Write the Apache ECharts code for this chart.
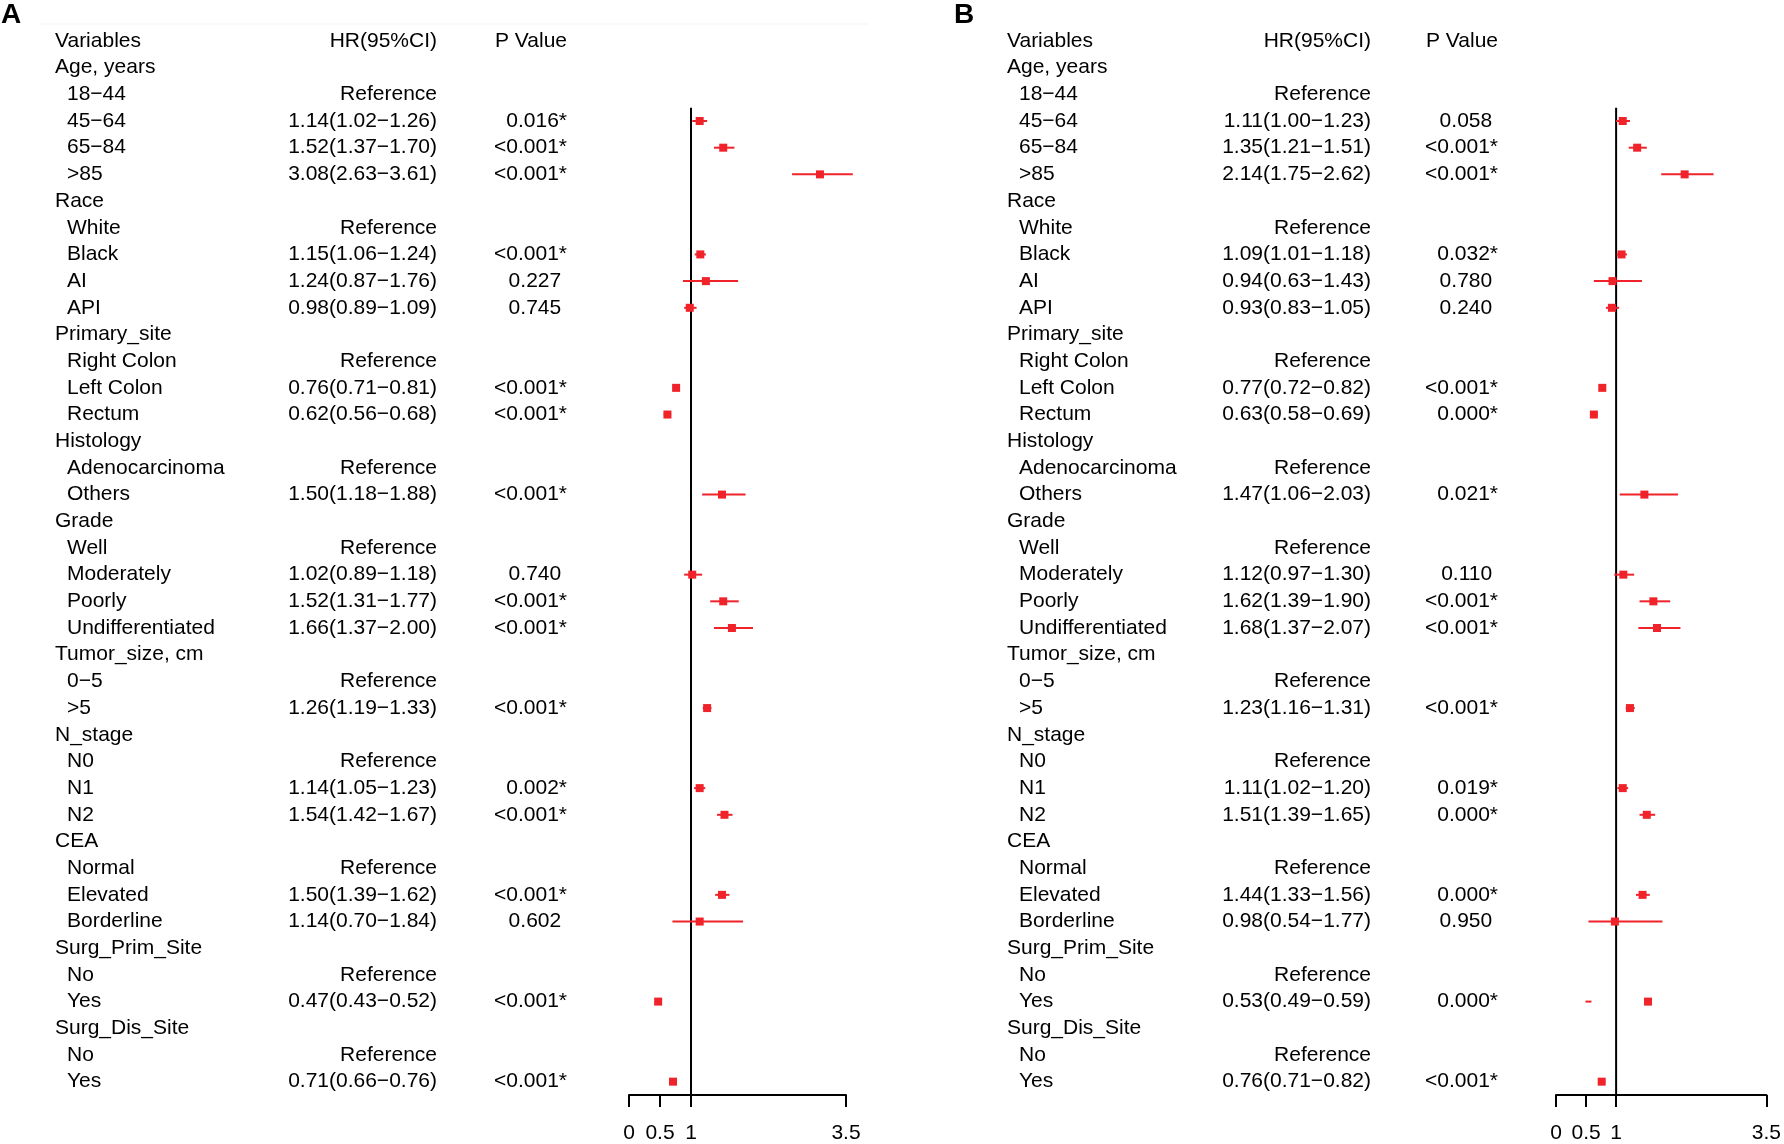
<!DOCTYPE html>
<html>
<head>
<meta charset="utf-8">
<title>Forest plot</title>
<script src="https://cdn.jsdelivr.net/npm/echarts@6/dist/echarts.min.js"></script>
<style>
  html, body { margin: 0; padding: 0; background: #fff; }
  #chart { width: 1784px; height: 1144px; }
</style>
</head>
<body>
<div id="chart"></div>
<script>
var R = 'Reference';

// row labels (the column header row is added separately)
var labels = ['Age, years', '18−44', '45−64', '65−84', '>85',
  'Race', 'White', 'Black', 'AI', 'API',
  'Primary_site', 'Right Colon', 'Left Colon', 'Rectum',
  'Histology', 'Adenocarcinoma', 'Others',
  'Grade', 'Well', 'Moderately', 'Poorly', 'Undifferentiated',
  'Tumor_size, cm', '0−5', '>5',
  'N_stage', 'N0', 'N1', 'N2',
  'CEA', 'Normal', 'Elevated', 'Borderline',
  'Surg_Prim_Site', 'No', 'Yes',
  'Surg_Dis_Site', 'No', 'Yes'];

// panel A
var estA = [null, R, 1.14, 1.52, 3.08, null, R, 1.15, 1.24, 0.98, null, R, 0.76, 0.62, null, R, 1.50,
  null, R, 1.02, 1.52, 1.66, null, R, 1.26, null, R, 1.14, 1.54, null, R, 1.50, 1.14, null, R, 0.47, null, R, 0.71];
var loA = [null, null, 1.02, 1.37, 2.63, null, null, 1.06, 0.87, 0.89, null, null, 0.71, 0.56, null, null, 1.18,
  null, null, 0.89, 1.31, 1.37, null, null, 1.19, null, null, 1.05, 1.42, null, null, 1.39, 0.70, null, null, 0.43, null, null, 0.66];
var hiA = [null, null, 1.26, 1.70, 3.61, null, null, 1.24, 1.76, 1.09, null, null, 0.81, 0.68, null, null, 1.88,
  null, null, 1.18, 1.77, 2.00, null, null, 1.33, null, null, 1.23, 1.67, null, null, 1.62, 1.84, null, null, 0.52, null, null, 0.76];
var pA = [null, null, '0.016*', '<0.001*', '<0.001*', null, null, '<0.001*', '0.227', '0.745', null, null, '<0.001*', '<0.001*', null, null, '<0.001*',
  null, null, '0.740', '<0.001*', '<0.001*', null, null, '<0.001*', null, null, '0.002*', '<0.001*', null, null, '<0.001*', '0.602', null, null, '<0.001*', null, null, '<0.001*'];
var boxA = estA;

// panel B
var estB = [null, R, 1.11, 1.35, 2.14, null, R, 1.09, 0.94, 0.93, null, R, 0.77, 0.63, null, R, 1.47,
  null, R, 1.12, 1.62, 1.68, null, R, 1.23, null, R, 1.11, 1.51, null, R, 1.44, 0.98, null, R, 0.53, null, R, 0.76];
var loB = [null, null, 1.00, 1.21, 1.75, null, null, 1.01, 0.63, 0.83, null, null, 0.72, 0.58, null, null, 1.06,
  null, null, 0.97, 1.39, 1.37, null, null, 1.16, null, null, 1.02, 1.39, null, null, 1.33, 0.54, null, null, 0.49, null, null, 0.71];
var hiB = [null, null, 1.23, 1.51, 2.62, null, null, 1.18, 1.43, 1.05, null, null, 0.82, 0.69, null, null, 2.03,
  null, null, 1.30, 1.90, 2.07, null, null, 1.31, null, null, 1.20, 1.65, null, null, 1.56, 1.77, null, null, 0.59, null, null, 0.82];
var pB = [null, null, '0.058', '<0.001*', '<0.001*', null, null, '0.032*', '0.780', '0.240', null, null, '<0.001*', '0.000*', null, null, '0.021*',
  null, null, '0.110', '<0.001*', '<0.001*', null, null, '<0.001*', null, null, '0.019*', '0.000*', null, null, '0.000*', '0.950', null, null, '0.000*', null, null, '<0.001*'];
// where the boxes sit in panel B (the Surg_Prim_Site "Yes" box is drawn away from its CI in the figure)
var boxB = [null, R, 1.11, 1.35, 2.14, null, R, 1.09, 0.94, 0.93, null, R, 0.77, 0.63, null, R, 1.47,
  null, R, 1.12, 1.62, 1.68, null, R, 1.23, null, R, 1.11, 1.51, null, R, 1.44, 0.98, null, R, 1.53, null, R, 0.76];

var ticks = [0, 0.5, 1, 3.5];

var FONT = '"Liberation Sans", Arial, sans-serif';
var RED = '#f0222a';
var ROWS = labels.length + 1;
var TOP = 27.6, ROW_H = 26.72;

var chart = echarts.init(document.getElementById('chart'));

function hrText(e, l, h) {
  return e.toFixed(2) + '(' + l.toFixed(2) + '−' + h.toFixed(2) + ')';
}

function panelSeries(i, est, lo, hi, p, box, cols) {
  var textData = [];
  for (var r = 0; r < ROWS; r++) textData.push([1, r + 0.5]);

  var marks = [];
  est.forEach(function (e, k) {
    if (typeof e === 'number') marks.push([box[k], k + 1.5, lo[k], hi[k]]);
  });

  return [{
    type: 'custom',
    xAxisIndex: i, yAxisIndex: i,
    silent: true,
    data: textData,
    encode: { x: 0, y: 1 },
    renderItem: function (params, api) {
      var r = params.dataIndex;
      var y = api.coord([1, r + 0.5])[1];
      var kids = [];
      function txt(s, x, align) {
        kids.push({
          type: 'text',
          style: { text: s, x: x, y: y, align: align, verticalAlign: 'middle',
            fill: '#000', fontSize: 21, fontFamily: FONT }
        });
      }
      if (r === 0) {
        txt('Variables', cols.name, 'left');
        txt('HR(95%CI)', cols.hr, 'right');
        txt('P Value', cols.p, 'right');
      } else {
        var k = r - 1, e = est[k];
        txt(labels[k], e == null ? cols.name : cols.name + 12, 'left');
        if (e === R) {
          txt('Reference', cols.hr, 'right');
        } else if (e != null) {
          txt(hrText(e, lo[k], hi[k]), cols.hr, 'right');
          // values without a star keep a trailing blank in the figure
          txt(/\*$/.test(p[k]) ? p[k] : p[k] + ' ', cols.p, 'right');
        }
      }
      return { type: 'group', children: kids };
    }
  }, {
    type: 'line',
    xAxisIndex: i, yAxisIndex: i,
    silent: true,
    symbol: 'none',
    lineStyle: { color: '#000', width: 2 },
    data: [[1, 3], [1, ROWS]],
    z: 2
  }, {
    type: 'custom',
    xAxisIndex: i, yAxisIndex: i,
    silent: true,
    data: marks,
    encode: { x: 0, y: 1 },
    z: 3,
    renderItem: function (params, api) {
      var yv = api.value(1);
      var c = api.coord([api.value(0), yv]);
      var a = api.coord([api.value(2), yv]);
      var b = api.coord([api.value(3), yv]);
      return {
        type: 'group',
        children: [{
          type: 'line',
          shape: { x1: a[0], y1: a[1], x2: b[0], y2: b[1] },
          style: { stroke: RED, lineWidth: 2 }
        }, {
          type: 'rect',
          shape: { x: c[0] - 4, y: c[1] - 4, width: 8, height: 8 },
          style: { fill: RED }
        }]
      };
    }
  }];
}

function xAxis(i) {
  return {
    gridIndex: i,
    type: 'value',
    min: 0, max: 3.5,
    axisLine: { show: true, onZero: false, lineStyle: { color: '#000', width: 2 } },
    axisTick: { show: true, customValues: ticks, length: 12, lineStyle: { color: '#000', width: 2 } },
    axisLabel: { customValues: ticks, margin: 28, color: '#000', fontSize: 21, fontFamily: FONT },
    splitLine: { show: false }
  };
}

function yAxis(i) {
  return { gridIndex: i, type: 'value', min: 0, max: ROWS, inverse: true, show: false };
}

chart.setOption({
  animation: false,
  backgroundColor: '#fff',
  grid: [
    { left: 629, width: 217, top: TOP, height: ROWS * ROW_H, containLabel: false },
    { left: 1556, width: 214, top: TOP, height: ROWS * ROW_H, containLabel: false }
  ],
  xAxis: [xAxis(0), xAxis(1)],
  yAxis: [yAxis(0), yAxis(1)],
  graphic: [
    { type: 'line', shape: { x1: 40, y1: 24, x2: 868, y2: 24 }, style: { stroke: '#f3f3f3', lineWidth: 1 }, silent: true },
    { type: 'text', style: { text: 'A', x: 1, y: 15, verticalAlign: 'middle', fontSize: 28, fontWeight: 'bold', fontFamily: FONT, fill: '#000' } },
    { type: 'text', style: { text: 'B', x: 954, y: 15, verticalAlign: 'middle', fontSize: 28, fontWeight: 'bold', fontFamily: FONT, fill: '#000' } }
  ],
  series: [].concat(
    panelSeries(0, estA, loA, hiA, pA, boxA, { name: 55, hr: 437, p: 567 }),
    panelSeries(1, estB, loB, hiB, pB, boxB, { name: 1007, hr: 1371, p: 1498 })
  )
});
</script>
</body>
</html>
